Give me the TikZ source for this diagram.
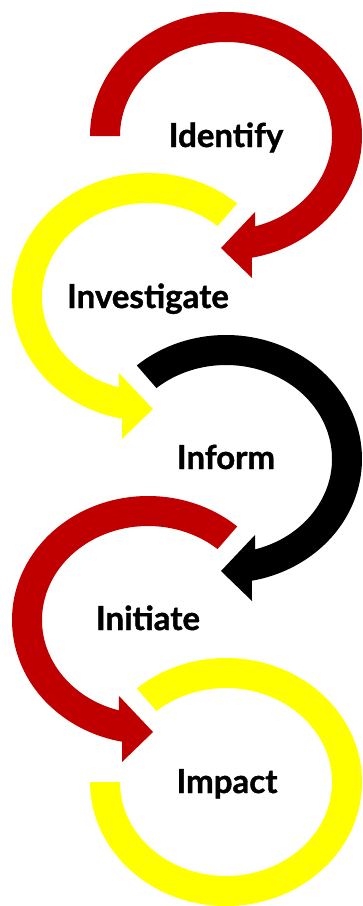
\documentclass[tikz,border=0pt]{standalone}
\usepackage{fontspec}
\setmainfont{Lato}[BoldFeatures={FakeBold=1.2}]
\definecolor{cred}{HTML}{C00000}
\definecolor{cyel}{HTML}{FFFF00}
\tikzset{
  lbl/.style={font=\bfseries\fontsize{33}{36}\selectfont, anchor=base, inner sep=0pt, text=black},
  outerR/.style={x radius=136, y radius=124},
  innerR/.style={x radius=106, y radius=94}
}
\begin{document}
\begin{tikzpicture}[x=1pt,y=-1pt]
\useasboundingbox (0,0) rectangle (362,906);
% circle 1 - Identify (red, clockwise, arrow pointing left)
\begin{scope}[shift={(226,136)}]
\fill[cred] (180:136 and 124) arc[start angle=180, end angle=439, outerR]
  -- (26,142) -- (-5,112) -- (29,76) -- (434:106 and 94)
  arc[start angle=434, end angle=180, innerR] -- cycle;
\end{scope}
% circle 2 - Investigate (yellow, mirrored)
\begin{scope}[shift={(148,297)}, xscale=-1]
\fill[cyel] (229:136 and 124) arc[start angle=229, end angle=439, outerR]
  -- (26,142) -- (-5,112) -- (29,76) -- (434:106 and 94)
  arc[start angle=434, end angle=229, innerR] -- cycle;
\end{scope}
% circle 3 - Inform (black)
\begin{scope}[shift={(226,459)}]
\fill[black] (229:136 and 124) arc[start angle=229, end angle=439, outerR]
  -- (26,142) -- (-5,112) -- (29,76) -- (434:106 and 94)
  arc[start angle=434, end angle=229, innerR] -- cycle;
\end{scope}
% circle 4 - Initiate (red, mirrored)
\begin{scope}[shift={(148,620)}, xscale=-1]
\fill[cred] (229:136 and 124) arc[start angle=229, end angle=439, outerR]
  -- (26,142) -- (-5,112) -- (29,76) -- (434:106 and 94)
  arc[start angle=434, end angle=229, innerR] -- cycle;
\end{scope}
% circle 5 - Impact (yellow, no arrow)
\begin{scope}[shift={(226,782)}]
\fill[cyel] (229:136 and 124) arc[start angle=229, end angle=540, outerR]
  -- (540:106 and 94)
  arc[start angle=540, end angle=229, innerR] -- cycle;
\end{scope}
% labels
\node[lbl] (t1) at (226,147) {Identify};
\node[lbl] (t2) at (148,308) {Investigate};
\node[lbl] (t3) at (226,469) {Inform};
\node[lbl] (t4) at (148,630) {Initiate};
\node[lbl] (t5) at (227,793) {Impact};
\end{tikzpicture}
\end{document}
